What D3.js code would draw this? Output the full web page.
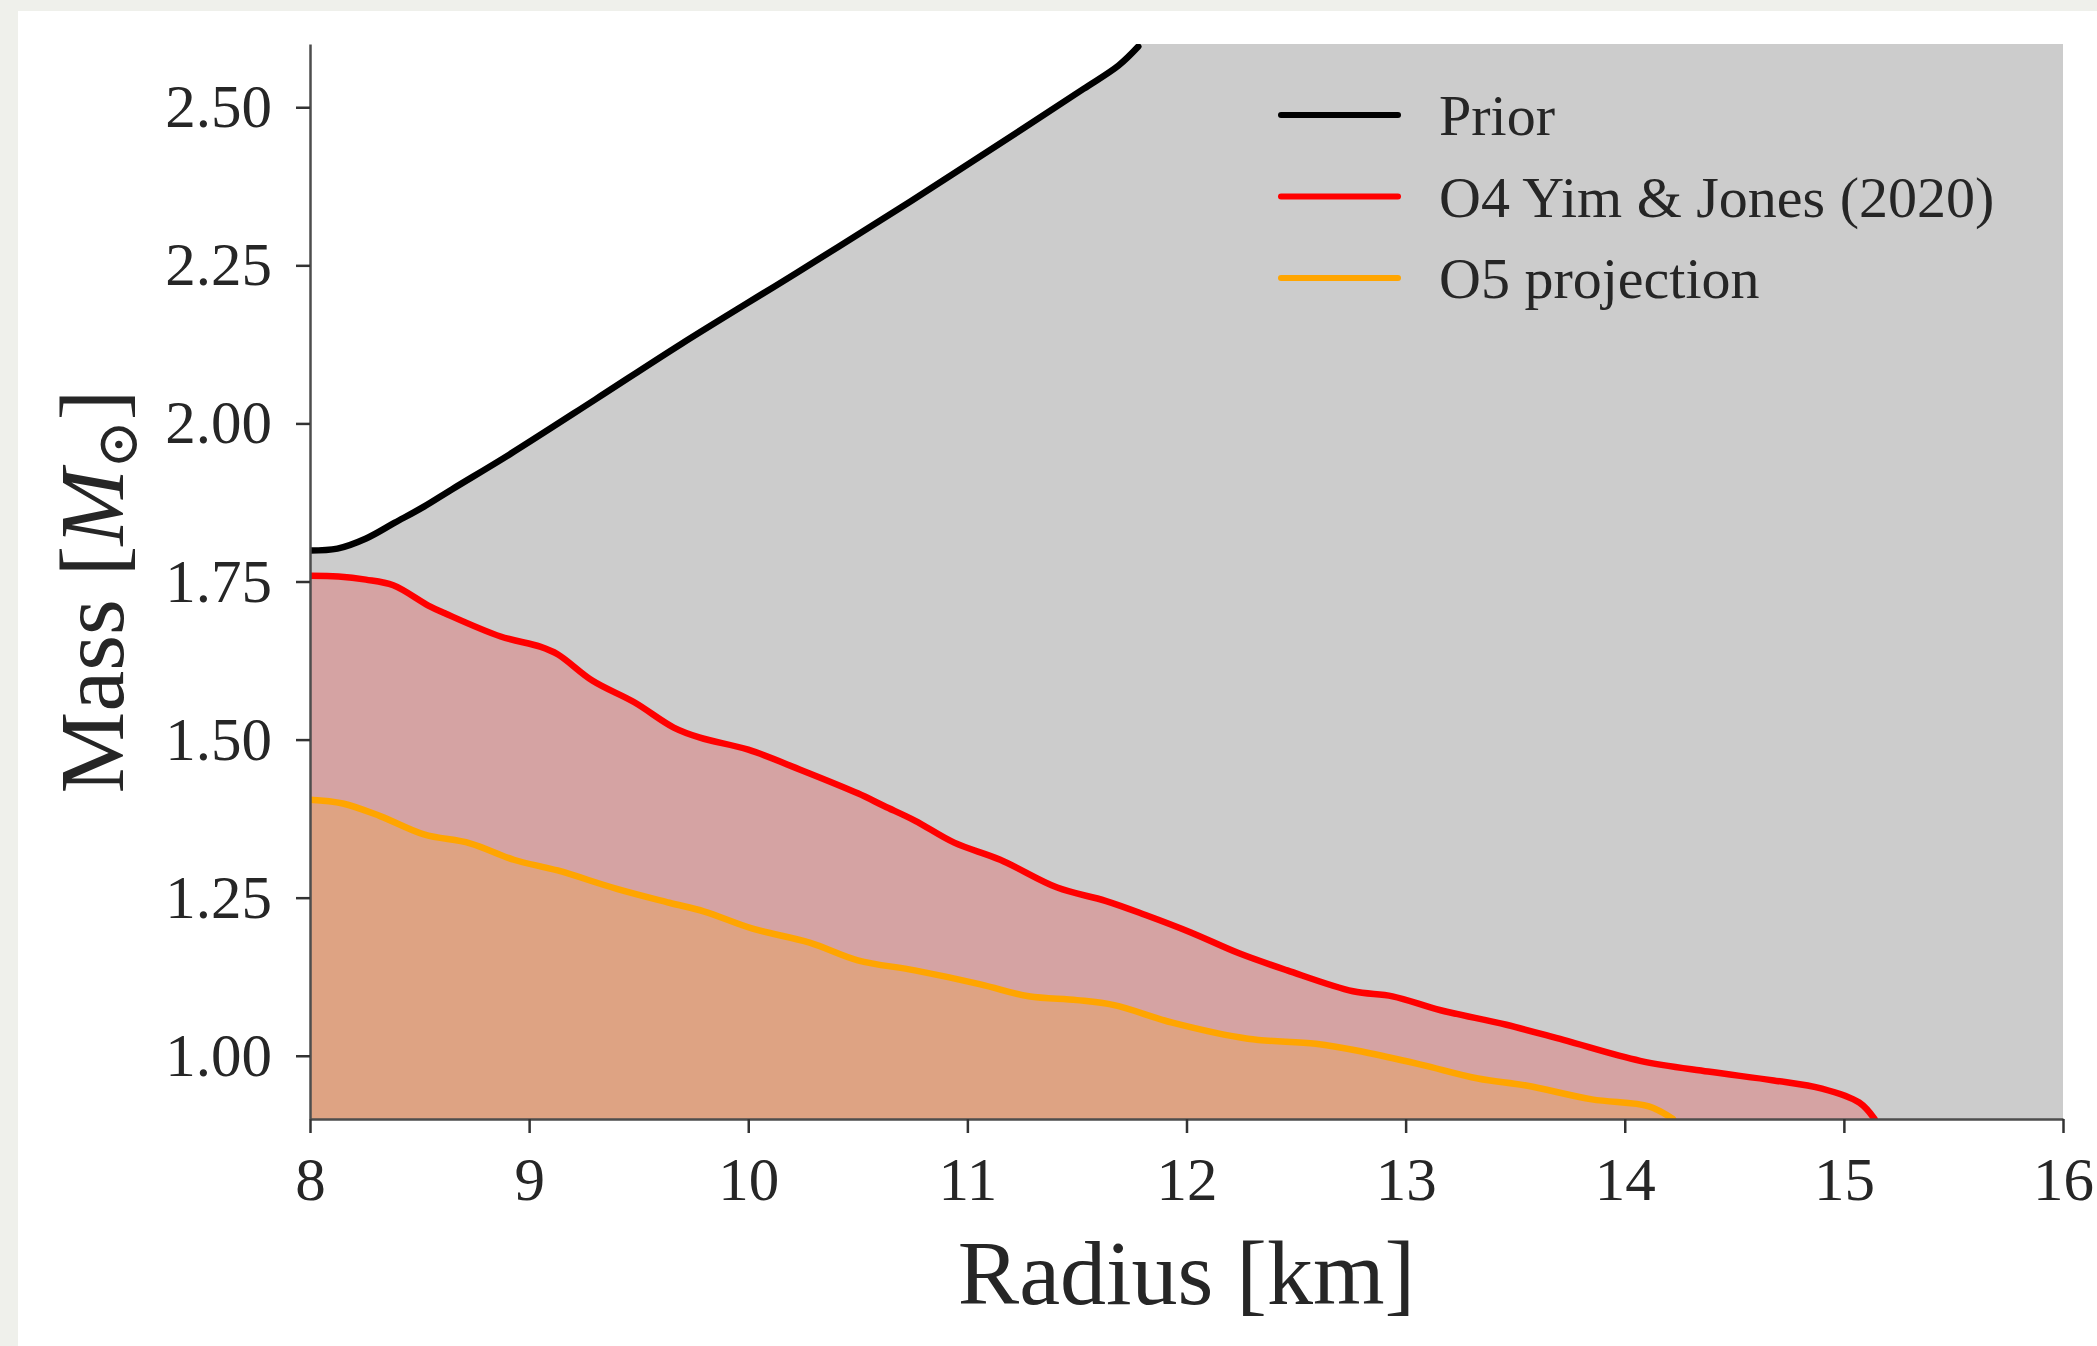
<!DOCTYPE html>
<html>
<head>
<meta charset="utf-8">
<script src="https://cdn.jsdelivr.net/npm/d3@7"></script>
<style>
  html, body { margin: 0; padding: 0; background: #eff0eb; }
  svg { display: block; }
  text { font-family: "Liberation Serif", "DejaVu Serif", serif; fill: #262626; }
</style>
</head>
<body>
<div id="chart"></div>
<script>
// Mass-radius constraints: prior upper bound and projected lower bounds
const priorR = [8.0, 8.125, 8.256, 8.387, 8.518, 8.649, 8.911, 9.303, 9.696, 10.22, 10.74, 11.27, 11.53, 11.69, 11.78];
const priorM = [1.799, 1.802, 1.818, 1.843, 1.868, 1.896, 1.951, 2.038, 2.126, 2.238, 2.351, 2.470, 2.529, 2.566, 2.596];

const o4R = [8.0, 8.13, 8.255, 8.38, 8.54, 8.62, 8.87, 9.05, 9.13, 9.29, 9.48, 9.66, 9.78, 10.0, 10.24, 10.5, 10.62,
             10.76, 10.94, 11.15, 11.41, 11.63, 11.81, 12.02, 12.24, 12.46, 12.76, 12.94, 13.16, 13.46, 13.72,
             14.07, 14.38, 14.68, 14.9, 15.07, 15.14];
const o4M = [1.759, 1.758, 1.753, 1.744, 1.712, 1.699, 1.663, 1.647, 1.635, 1.593, 1.559, 1.519, 1.503, 1.484, 1.452, 1.415, 1.395,
             1.372, 1.337, 1.310, 1.266, 1.245, 1.223, 1.195, 1.162, 1.135, 1.102, 1.094, 1.072, 1.049, 1.025,
             0.992, 0.975, 0.961, 0.948, 0.926, 0.900];

const o5R = [8.0, 8.15, 8.32, 8.52, 8.73, 8.93, 9.13, 9.4, 9.64, 9.8, 10.02, 10.28, 10.5, 10.76, 11.06, 11.28, 11.5,
             11.67, 11.94, 12.28, 12.59, 12.81, 13.07, 13.33, 13.55, 13.85, 14.11, 14.22];
const o5M = [1.405, 1.399, 1.379, 1.350, 1.336, 1.310, 1.293, 1.264, 1.242, 1.228, 1.201, 1.179, 1.151, 1.135, 1.113, 1.094, 1.088,
             1.080, 1.052, 1.027, 1.019, 1.006, 0.986, 0.964, 0.953, 0.931, 0.920, 0.900];

const xTicks = [8, 9, 10, 11, 12, 13, 14, 15, 16];
const yTicks = [1.00, 1.25, 1.50, 1.75, 2.00, 2.25, 2.50];
const legendLabels = ["Prior", "O4 Yim & Jones (2020)", "O5 projection"];
const legendColors = ["#000000", "#ff0000", "#ffa500"];

const W = 2097, H = 1346;
const plot = { left: 310, right: 2063, top: 44, bottom: 1119 };

const x = d3.scaleLinear().domain([8, 16]).range([plot.left, plot.right]);
const y = d3.scaleLinear().domain([0.9, 2.6]).range([plot.bottom, plot.top]);

const zip = (a, b) => a.map((v, i) => [v, b[i]]);
const prior = zip(priorR, priorM);
const o4 = zip(o4R, o4M);
const o5 = zip(o5R, o5M);

const svg = d3.select("#chart").append("svg")
  .attr("width", W).attr("height", H);

// white figure panel (screenshot border shows on top/left)
svg.append("rect")
  .attr("x", 18).attr("y", 11)
  .attr("width", W - 18).attr("height", H - 11)
  .attr("fill", "#ffffff");

svg.append("defs").append("clipPath").attr("id", "clip")
  .append("rect")
  .attr("x", plot.left).attr("y", plot.top)
  .attr("width", plot.right - plot.left).attr("height", plot.bottom - plot.top);

const g = svg.append("g").attr("clip-path", "url(#clip)");

// prior region: grey everywhere, then white above the prior curve
g.append("rect")
  .attr("x", x(8)).attr("y", y(2.6))
  .attr("width", x(16) - x(8)).attr("height", y(0.9) - y(2.6))
  .attr("fill", "#cccccc");

const curve = d3.curveCatmullRom.alpha(0.5);

g.append("path")
  .datum(prior)
  .attr("fill", "#ffffff")
  .attr("d", d3.area().curve(curve)
    .x(d => x(d[0])).y0(y(2.6)).y1(d => y(d[1])));

const under = d3.area().curve(curve)
  .x(d => x(d[0])).y0(y(0.9)).y1(d => y(d[1]));

g.append("path").datum(o4).attr("fill", "#d5a3a3").attr("d", under);
g.append("path").datum(o5).attr("fill", "#dea383").attr("d", under);

const line = d3.line().curve(curve).x(d => x(d[0])).y(d => y(d[1]));

[[prior, legendColors[0]], [o4, legendColors[1]], [o5, legendColors[2]]].forEach(([d, c]) => {
  g.append("path").datum(d)
    .attr("fill", "none")
    .attr("stroke", c)
    .attr("stroke-width", 6.5)
    .attr("stroke-linecap", "round")
    .attr("stroke-linejoin", "round")
    .attr("d", line);
});

// axes (left and bottom spines only)
const xAxis = svg.append("g")
  .attr("transform", `translate(0,${plot.bottom})`)
  .call(d3.axisBottom(x).tickValues(xTicks).tickFormat(d3.format("d"))
    .tickSize(14).tickSizeOuter(0).tickPadding(24));

const yAxis = svg.append("g")
  .attr("transform", `translate(${plot.left},0)`)
  .call(d3.axisLeft(y).tickValues(yTicks).tickFormat(d3.format(".2f"))
    .tickSize(14).tickSizeOuter(0).tickPadding(24));

[xAxis, yAxis].forEach(a => {
  a.select(".domain").attr("stroke", "#4d4d4d").attr("stroke-width", 2.5);
  a.selectAll(".tick line").attr("stroke", "#333333").attr("stroke-width", 2.5);
  a.selectAll(".tick text")
    .attr("fill", "#262626")
    .style("font-family", '"Liberation Serif", "DejaVu Serif", serif')
    .style("font-size", "61px");
});

// axis labels
svg.append("text")
  .attr("x", (plot.left + plot.right) / 2)
  .attr("y", 1304)
  .attr("text-anchor", "middle")
  .style("font-size", "92px")
  .text("Radius [km]");

const yl = svg.append("text")
  .attr("transform", `translate(123,${(plot.top + plot.bottom) / 2 + 10}) rotate(-90)`)
  .attr("text-anchor", "middle")
  .style("font-size", "92px");
yl.append("tspan").text("Mass [");
yl.append("tspan").style("font-style", "italic").text("M");
yl.append("tspan").attr("dy", 14).style("font-size", "58px")
  .style("font-family", '"DejaVu Serif", serif').text("⊙");
yl.append("tspan").attr("dy", -14).text("]");

// legend
const legend = svg.append("g");
legendLabels.forEach((lab, i) => {
  const ly = 115 + i * 81.5;
  legend.append("line")
    .attr("x1", 1281).attr("x2", 1398)
    .attr("y1", ly).attr("y2", ly)
    .attr("stroke", legendColors[i])
    .attr("stroke-width", 6)
    .attr("stroke-linecap", "round");
  legend.append("text")
    .attr("x", 1439).attr("y", ly + 20)
    .style("font-size", "58px")
    .text(lab);
});
</script>
</body>
</html>
